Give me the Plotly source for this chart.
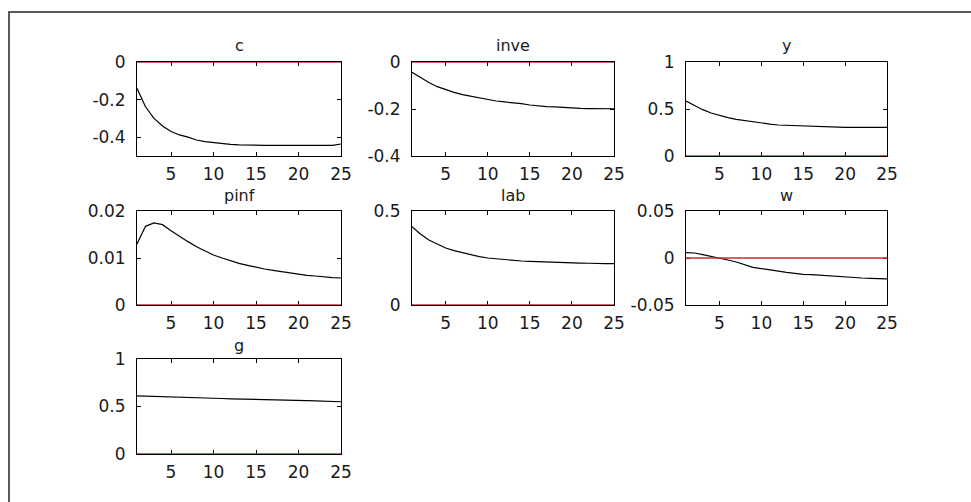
"""Impulse responses, 7 panels in a 3x3 grid (MATLAB-like look)."""

import plotly.graph_objects as go

periods = list(range(1, 26))

c = [-0.140, -0.238, -0.300, -0.340, -0.370, -0.388, -0.400, -0.415, -0.424,
     -0.429, -0.436, -0.438, -0.441, -0.443, -0.443, -0.443, -0.443, -0.443,
     -0.443, -0.443, -0.443, -0.443, -0.443, -0.443, -0.436]
inve = [-0.044, -0.067, -0.087, -0.105, -0.118, -0.129, -0.139, -0.146, -0.153,
        -0.160, -0.166, -0.170, -0.173, -0.177, -0.183, -0.187, -0.190, -0.191,
        -0.194, -0.194, -0.197, -0.198, -0.199, -0.199, -0.199]
y = [0.585, 0.535, 0.493, 0.457, 0.429, 0.408, 0.390, 0.376, 0.362, 0.348,
     0.340, 0.330, 0.326, 0.323, 0.319, 0.316, 0.316, 0.312, 0.305, 0.305,
     0.305, 0.305, 0.305, 0.305, 0.305]
pinf = [0.01298, 0.01674, 0.01745, 0.01709, 0.01582, 0.01460, 0.01348, 0.01241,
        0.01149, 0.01064, 0.01000, 0.00936, 0.00887, 0.00844, 0.00801, 0.00766,
        0.00738, 0.00709, 0.00674, 0.00645, 0.00631, 0.00617, 0.00596, 0.00582,
        0.00574]
lab = [0.417, 0.378, 0.346, 0.323, 0.303, 0.289, 0.277, 0.266, 0.257, 0.250,
       0.245, 0.241, 0.238, 0.234, 0.232, 0.230, 0.229, 0.227, 0.225, 0.225,
       0.223, 0.222, 0.220, 0.220, 0.220]
w = [0.0057, 0.0053, 0.0035, 0.0018, -0.0004, -0.0021, -0.0043, -0.0071,
     -0.0099, -0.0113, -0.0128, -0.0138, -0.0152, -0.0163, -0.0174, -0.0177,
     -0.0184, -0.0191, -0.0199, -0.0202, -0.0209, -0.0213, -0.0216, -0.0223,
     -0.0223]
g = [0.611, 0.609, 0.606, 0.603, 0.600, 0.598, 0.595, 0.592, 0.590, 0.587,
     0.584, 0.581, 0.578, 0.575, 0.572, 0.570, 0.568, 0.566, 0.564, 0.562,
     0.561, 0.560, 0.559, 0.558, 0.550]

zero = [0, 0]
x_ticks = [5, 10, 15, 20, 25]

# name, values, y range, y tick values, y tick labels
panels = [
    ("c", c, [-0.5, 0], [0, -0.2, -0.4], ["0", "-0.2", "-0.4"]),
    ("inve", inve, [-0.4, 0], [0, -0.2, -0.4], ["0", "-0.2", "-0.4"]),
    ("y", y, [0, 1], [0, 0.5, 1], ["0", "0.5", "1"]),
    ("pinf", pinf, [0, 0.02], [0, 0.01, 0.02], ["0", "0.01", "0.02"]),
    ("lab", lab, [0, 0.5], [0, 0.5], ["0", "0.5"]),
    ("w", w, [-0.05, 0.05], [-0.05, 0, 0.05], ["-0.05", "0", "0.05"]),
    ("g", g, [0, 1], [0, 0.5, 1], ["0", "0.5", "1"]),
]

W, H = 971, 502
col_px = [(137, 341), (412, 614), (686, 887)]
row_px = [(62, 156), (211, 305), (359, 454)]
title_gap = [17, 16, 14]

font = dict(family="DejaVu Sans, Arial", size=17, color="#1a1a1a")

fig = go.Figure()
layout = {}
annotations = []

for i, (name, vals, yrange, yt, ytl) in enumerate(panels):
    r, col = divmod(i, 3)
    n = "" if i == 0 else str(i + 1)
    xa, ya = "x" + n, "y" + n

    fig.add_trace(go.Scatter(
        x=periods, y=vals, mode="lines", xaxis=xa, yaxis=ya,
        line=dict(color="black", width=1.2), showlegend=False,
    ))
    fig.add_trace(go.Scatter(
        x=[periods[0], periods[-1]], y=zero, mode="lines", xaxis=xa, yaxis=ya,
        line=dict(color="rgb(205,45,45)", width=1.3), showlegend=False,
    ))

    x0, x1 = col_px[col]
    y0, y1 = row_px[r]
    common = dict(
        showline=True, linecolor="black", linewidth=1, mirror="ticks",
        ticks="inside", ticklen=4, tickcolor="black", showgrid=False,
        zeroline=False, tickfont=font, layer="below traces", automargin=False,
    )
    layout["xaxis" + n] = dict(
        domain=[x0 / W, x1 / W], range=[1, 25], tickvals=x_ticks,
        anchor=ya, ticklabelstandoff=3, **common,
    )
    layout["yaxis" + n] = dict(
        domain=[1 - y1 / H, 1 - y0 / H], range=yrange, tickvals=yt,
        ticktext=ytl, anchor=xa, ticklabelstandoff=7, **common,
    )
    annotations.append(dict(
        text=name, xref="paper", yref="paper", x=(x0 + x1) / 2 / W,
        y=1 - (y0 - title_gap[r]) / H, xanchor="center", yanchor="middle",
        showarrow=False, font=dict(family="DejaVu Sans, Arial", size=16,
                                   color="#1a1a1a"),
    ))

fig.update_layout(
    **layout,
    annotations=annotations,
    width=W, height=H,
    margin=dict(l=0, r=0, t=0, b=0, autoexpand=False),
    paper_bgcolor="white", plot_bgcolor="white",
    shapes=[dict(type="rect", xref="paper", yref="paper",
                 x0=9 / W, x1=1.05, y0=-0.05, y1=1 - 12 / H,
                 line=dict(color="#222", width=1.5))],
)

# pin the figure to the top-left corner of the page
pin_js = (
    "document.body.style.margin='0';"
    "var d=document.getElementById('{plot_id}');"
    "d.style.position='fixed';d.style.top='0px';d.style.left='0px';"
)
fig.write_html("out.html", config={"displayModeBar": False}, post_script=pin_js)
